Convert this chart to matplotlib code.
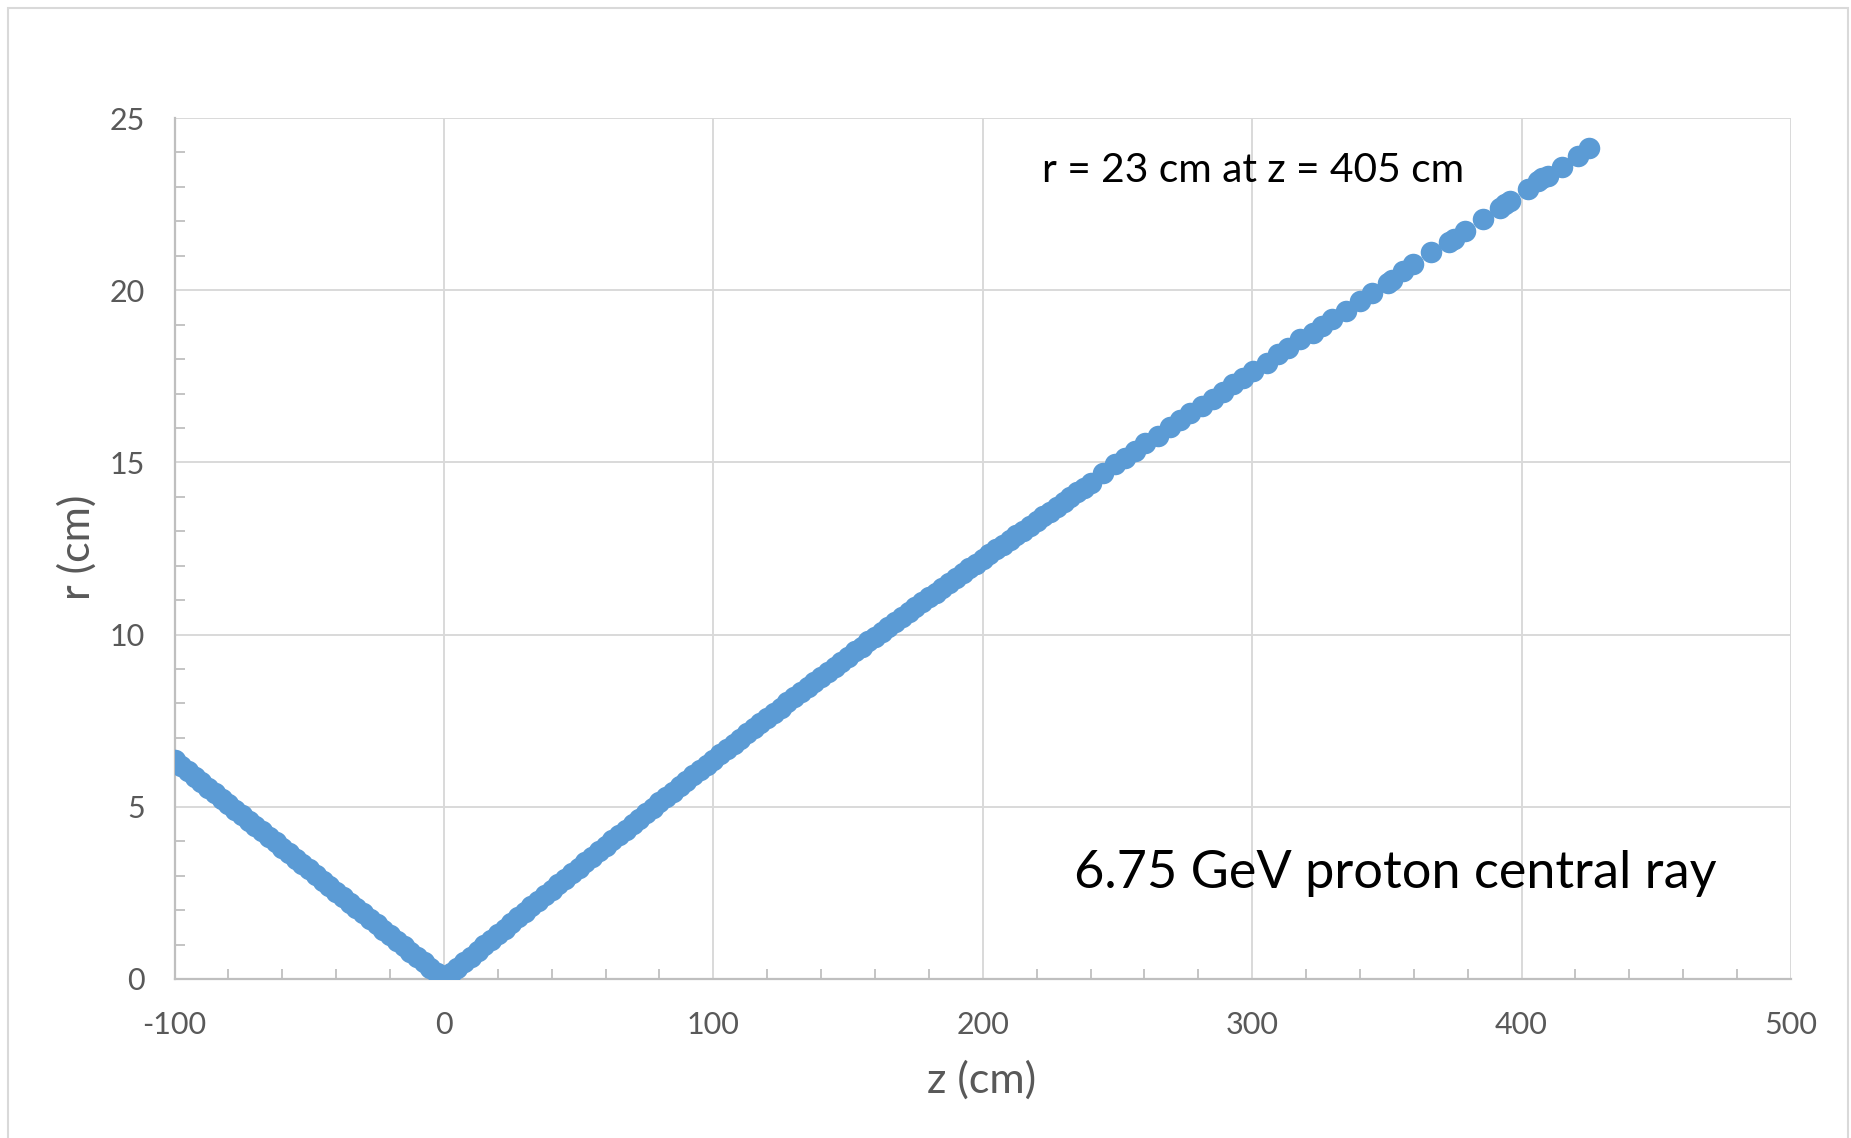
import matplotlib
matplotlib.use("Agg")
import matplotlib.pyplot as plt
from matplotlib.ticker import MultipleLocator
from matplotlib.patches import Rectangle

plt.rcParams['font.family'] = ['Lato', 'DejaVu Sans']

# ---- data ----
z_upstream = [-100, -97.5, -95, -92.5, -90, -87.5, -85, -82.5, -80, -77.5, -75, -72.5,
              -70, -67.5, -65, -62.5, -60, -57.5, -55, -52.5, -50, -47.5, -45, -42.5,
              -40, -37.5, -35, -32.5, -30, -27.5, -25, -22.5, -20, -17.5, -15, -12.5,
              -10, -7.5, -5, -2.5, 0]
r_upstream = [6.35, 6.19, 6.03, 5.87, 5.72, 5.56, 5.40, 5.24, 5.08, 4.92, 4.76, 4.60,
              4.45, 4.29, 4.13, 3.97, 3.81, 3.65, 3.49, 3.33, 3.18, 3.02, 2.86, 2.70,
              2.54, 2.38, 2.22, 2.06, 1.91, 1.75, 1.59, 1.43, 1.27, 1.11, 0.95, 0.79,
              0.64, 0.48, 0.32, 0.16, 0.00]

z_downstream = [0, 2.5, 5, 7.5, 10, 12.5, 15, 17.5, 20, 22.5, 25, 27.5, 30, 32.5, 35, 37.5,
                40, 42.5, 45, 47.5, 50, 52.5, 55, 57.5, 60, 62.5, 65, 67.5, 70, 72.5, 75,
                77.5, 80, 82.5, 85, 87.5, 90, 92.5, 95, 97.5, 100, 102.5, 105, 107.5, 110,
                112.5, 115, 117.5, 120, 122.5, 125, 127.5, 130, 132.5, 135, 137.5, 140,
                142.5, 145, 147.5, 150, 152.5, 155, 157.5, 160, 162.5, 165, 167.5, 170,
                172.5, 175, 177.5, 180, 182.5, 185, 187.5, 190, 192.5, 195, 197.5, 200,
                202.5, 205, 207.5, 210, 212.5, 215, 217.5, 220, 222.5, 225, 227.5, 230,
                232.5, 235, 237.5, 240,
                244.8, 249.1, 252.8, 256.5, 260.2, 265.2, 269.5, 273.2, 276.9, 281.3,
                285.6, 289.3, 293.0, 296.7, 300.4, 305.4, 309.7, 313.4, 317.8, 322.4,
                326.1, 329.7, 334.9, 340.0, 344.4, 350.3, 352.0, 356.1, 359.8, 366.4,
                373.0, 375.0, 378.9, 385.5, 392.1, 394.0, 395.7, 402.4, 406.0, 407.5,
                409.7, 414.9, 421.0, 425.2]
r_downstream = [0.00, 0.16, 0.33, 0.49, 0.65, 0.81, 0.98, 1.14, 1.30, 1.46, 1.63, 1.79,
                1.95, 2.11, 2.27, 2.43, 2.59, 2.75, 2.91, 3.07, 3.23, 3.39, 3.55, 3.71,
                3.87, 4.03, 4.19, 4.34, 4.50, 4.66, 4.82, 4.97, 5.13, 5.29, 5.44, 5.60,
                5.75, 5.91, 6.06, 6.22, 6.37, 6.52, 6.68, 6.83, 6.98, 7.13, 7.28, 7.43,
                7.58, 7.73, 7.88, 8.03, 8.18, 8.33, 8.48, 8.62, 8.77, 8.92, 9.07, 9.21,
                9.36, 9.51, 9.65, 9.80, 9.94, 10.08, 10.23, 10.37, 10.51, 10.65, 10.80,
                10.94, 11.08, 11.22, 11.36, 11.50, 11.64, 11.78, 11.92, 12.06, 12.20,
                12.34, 12.48, 12.61, 12.75, 12.89, 13.02, 13.16, 13.29, 13.43, 13.57,
                13.71, 13.85, 13.99, 14.13, 14.27, 14.41,
                14.70, 14.94, 15.14, 15.33, 15.57, 15.78, 16.04, 16.23, 16.44, 16.64,
                16.85, 17.04, 17.27, 17.46, 17.65, 17.90, 18.14, 18.33, 18.58, 18.77,
                18.96, 19.16, 19.40, 19.69, 19.93, 20.22, 20.30, 20.56, 20.76, 21.10,
                21.39, 21.48, 21.72, 22.06, 22.40, 22.50, 22.60, 22.94, 23.18, 23.25,
                23.32, 23.57, 23.90, 24.14]

x_ticks = [-100, 0, 100, 200, 300, 400, 500]
y_ticks = [0, 5, 10, 15, 20, 25]
annotation_top = "r = 23 cm at z = 405 cm"
annotation_bottom = "6.75 GeV proton central ray"

# ---- figure ----
W, H = 1851, 1138
fig = plt.figure(figsize=(W / 100, H / 100), dpi=100)
fig.patch.set_facecolor("white")
fig.add_artist(Rectangle((8 / W, -0.01), (1848 - 8) / W, (H - 8) / H + 0.01,
                         transform=fig.transFigure, fill=False,
                         edgecolor="#D9D9D9", linewidth=1.5))

ax = fig.add_axes([174.5 / W, 159 / H, (1791 - 174.5) / W, (979 - 118) / H])

blue = "#5B9BD5"
ax.plot(z_upstream, r_upstream, linestyle="none", marker="o", ms=15.5,
        color=blue, markeredgewidth=0, zorder=3)
ax.plot(z_downstream, r_downstream, linestyle="none", marker="o", ms=15.5,
        color=blue, markeredgewidth=0, zorder=3)

ax.set_xlim(-100, 500)
ax.set_ylim(0, 25)
ax.set_xticks(x_ticks)
ax.set_yticks(y_ticks)
ax.set_xticklabels([str(t) for t in x_ticks])
ax.set_yticklabels([str(t) for t in y_ticks])
ax.xaxis.set_minor_locator(MultipleLocator(20))
ax.yaxis.set_minor_locator(MultipleLocator(1))

grey_txt = "#595959"
ax.tick_params(axis="both", which="major", length=0, labelsize=22,
               labelcolor=grey_txt)
ax.tick_params(axis="x", which="major", pad=23)
ax.tick_params(axis="y", which="major", pad=21.5)
ax.tick_params(axis="both", which="minor", direction="in", length=7,
               width=1.3, color="#BFBFBF")

ax.grid(True, which="major", color="#D9D9D9", linewidth=1.4, zorder=0)
ax.set_axisbelow(True)
for s in ["top", "right"]:
    ax.spines[s].set_visible(False)
for s in ["left", "bottom"]:
    ax.spines[s].set_color("#BFBFBF")
    ax.spines[s].set_linewidth(1.6)

fig.text(982 / W, 1 - 1080 / H, "z (cm)", fontsize=31, color=grey_txt,
         ha="center", va="center")
fig.text(77 / W, 1 - 547 / H, "r (cm)", fontsize=31, color=grey_txt,
         ha="center", va="center", rotation=90)

ax.text(222, 23.48, annotation_top, fontsize=29.3, color="black",
        ha="left", va="center")
ax.text(234, 3.05, annotation_bottom, fontsize=37.6, color="black",
        ha="left", va="center")

fig.savefig("out.png", dpi=100, facecolor="white")
